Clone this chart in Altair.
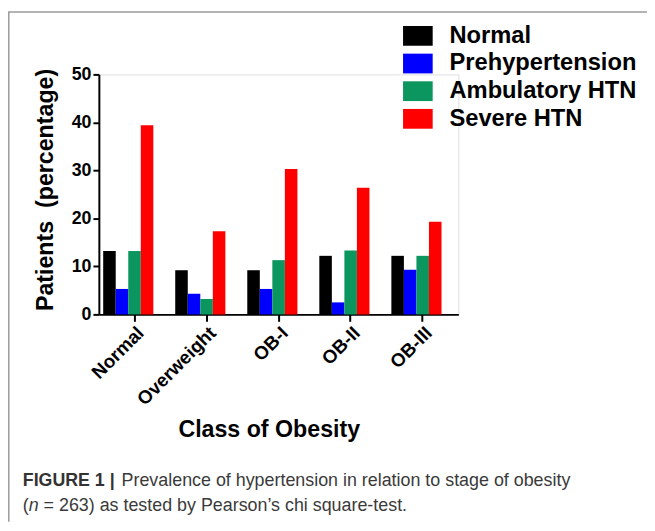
import altair as alt
import pandas as pd

# ---- data ----
classes = ["Normal", "Overweight", "OB-I", "OB-II", "OB-III"]
series = ["Normal", "Prehypertension", "Ambulatory HTN", "Severe HTN"]
normal = [13.2, 9.2, 9.2, 12.2, 12.2]
prehypertension = [5.3, 4.3, 5.3, 2.5, 9.3]
ambulatory = [13.2, 3.2, 11.3, 13.3, 12.2]
severe = [39.4, 17.3, 30.3, 26.4, 19.3]
colors = ["#000000", "#0000ff", "#0a965e", "#ff0000"]
y_ticks = [0, 10, 20, 30, 40, 50]

x_title = "Class of Obesity"
y_title = "Patients\u00a0\u00a0(percentage)"
cap_bold = "FIGURE 1 |"
cap_line1 = "Prevalence of hypertension in relation to stage of obesity"
cap_open = "("
cap_italic = "n"
cap_line2 = "= 263) as tested by Pearson\u2019s chi square-test."

values_by_series = [normal, prehypertension, ambulatory, severe]
rows = []
for s, vals in zip(series, values_by_series):
    for c, v in zip(classes, vals):
        rows.append({"cls": c, "series": s, "value": v})
df = pd.DataFrame(rows)

FONT = "Liberation Sans"
W, H = 364, 243

bars = alt.Chart(df).mark_bar().encode(
    x=alt.X("cls:N", sort=classes,
            scale=alt.Scale(paddingInner=0.13, paddingOuter=0.06),
            axis=alt.Axis(title=x_title, labelAngle=-45, labelFont=FONT,
                          labelFontSize=19, labelFontWeight="bold", labelColor="#000",
                          titleFont=FONT, titleFontSize=23.5, titleFontWeight="bold",
                          titleColor="#000", titlePadding=9, titleX=W / 2 - 10,
                          domainColor="#000", domainWidth=2, tickColor="#000",
                          tickWidth=2, tickSize=7, labelPadding=2)),
    xOffset=alt.XOffset("series:N", sort=series,
                        scale=alt.Scale(domain=series + ["_gap"], paddingInner=0, paddingOuter=0)),
    y=alt.Y("value:Q", scale=alt.Scale(domain=[0, 50], nice=False),
            axis=alt.Axis(title=y_title, values=y_ticks, grid=False, labelFont=FONT,
                          labelFontSize=18, labelFontWeight="bold", labelColor="#000",
                          titleFont=FONT, titleFontSize=23.5, titleFontWeight="bold",
                          titleColor="#000", titlePadding=14, titleY=H / 2 - 5,
                          domainColor="#000", domainWidth=2, tickColor="#000",
                          tickWidth=2, tickSize=6, labelPadding=2)),
    color=alt.Color("series:N", sort=series,
                    scale=alt.Scale(domain=series, range=colors),
                    legend=alt.Legend(title=None, orient="none", legendX=311, legendY=-51,
                                      symbolType="M-1.5,-1L1.5,-1L1.5,1L-1.5,1Z",
                                      symbolSize=400, symbolStrokeWidth=0,
                                      symbolOpacity=1, labelFont=FONT,
                                      labelFontSize=24, labelFontWeight="bold",
                                      labelColor="#000", labelOffset=20,
                                      rowPadding=4, labelLimit=400)),
)

def txt(s, x, y, weight="normal", style="normal", color="#3a3a3a", size=18):
    return alt.Chart(pd.DataFrame({"t": [s]})).mark_text(
        align="left", baseline="middle", font=FONT, fontSize=size,
        fontWeight=weight, fontStyle=style, color=color
    ).encode(text="t:N", x=alt.value(x), y=alt.value(y))

caption = (
    txt(cap_bold, -77, 412, weight="bold", color="#333")
    + txt(cap_line1, 23, 412, size=18.1)
    + txt(cap_open, -77, 437, size=18.1)
    + txt(cap_italic, -71, 437, style="italic", size=18.1)
    + txt(cap_line2, -56, 437, size=18.1)
)

frame_left = alt.Chart(pd.DataFrame({"a": [0]})).mark_rule(color="#9a9a9a", strokeWidth=1.5).encode(
    x=alt.value(-91.2), y=alt.value(-63.2), y2=alt.value(H + 210))
frame_top = alt.Chart(pd.DataFrame({"a": [0]})).mark_rule(color="#9a9a9a", strokeWidth=1.5).encode(
    x=alt.value(-92), x2=alt.value(W + 195), y=alt.value(-63.2))

chart = alt.layer(bars, caption, frame_left, frame_top).properties(
    width=W, height=H,
    padding={"left": 92, "top": 64, "right": 191, "bottom": 208},
    autosize=alt.AutoSizeParams(type="none"),
).configure_view(stroke=None).configure(background="white")

chart.save("out.html", embed_options={"renderer": "svg", "actions": False})
